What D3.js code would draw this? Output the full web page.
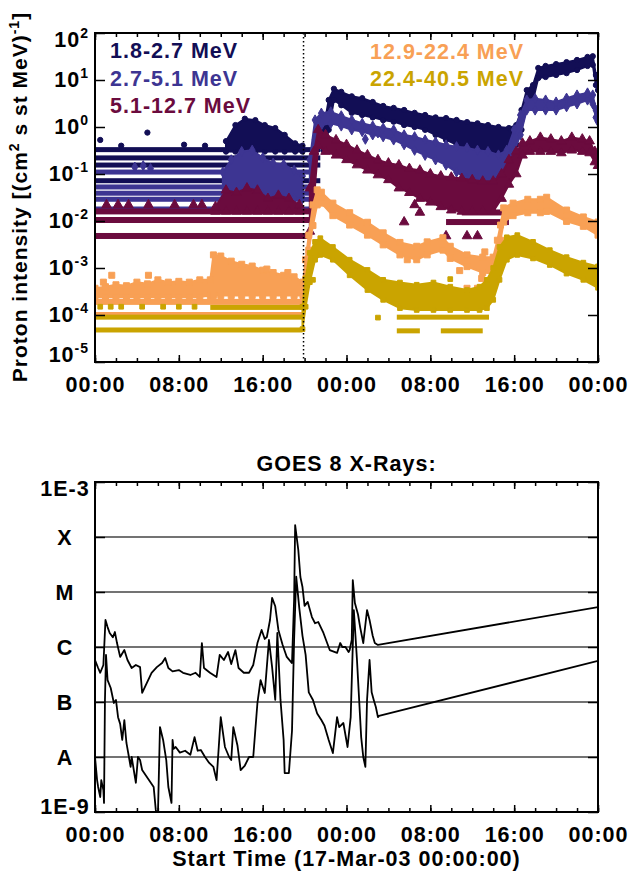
<!DOCTYPE html>
<html>
<head>
<meta charset="utf-8">
<script src="https://cdn.jsdelivr.net/npm/d3@7"></script>
<style>
  body { margin: 0; background: #fff; }
  svg text { font-family: "Liberation Sans", Arial, Helvetica, sans-serif; font-weight: bold; font-size: 21.5px; letter-spacing: 1px; fill: #000; }
</style>
</head>
<body>
<svg id="chart" width="629" height="871"></svg>
<script>
// ---- data (hours after 17-Mar-2003 00:00 UT) ----
const channelNames = ['1.8-2.7 MeV', '2.7-5.1 MeV', '5.1-12.7 MeV', '12.9-22.4 MeV', '22.4-40.5 MeV']
const channelColors = ['#120e55', '#3d3592', '#6b0b3e', '#f8a055', '#caa400']

// quantized count levels: [start h, end h, intensity]
const navyRows = [[0, 21.5, 0.33], [0, 21.5, 0.22], [0, 21.5, 0.155], [0, 21.5, 0.072]]
const blueRows = [[0, 20.5, 0.11], [0, 20.5, 0.053], [0, 20.5, 0.039], [0, 20.5, 0.029], [0, 20.5, 0.018]]
const maroonRows = [[0, 20.5, 0.016], [0, 20.5, 0.0105], [0, 20.5, 0.0048], [33.5, 39.5, 0.0095], [35, 39.5, 0.0152]]
const orangeRows = [[0, 19.8, 1.9e-4], [0, 19.8, 1.0e-4]]
const goldRows = [[11, 19.8, 1.45e-4], [0, 19.8, 9e-5], [0, 19.8, 4.8e-5], [28.8, 37.6, 9e-5], [28.8, 31, 4.6e-5], [33, 37, 4.6e-5]]

// spread of the points: [h, low, high]
const navyEnv = [
  [12.5, 0.3, 0.5], [13.4, 0.3, 1.1], [14.3, 0.3, 1.5], [15.3, 0.3, 1.4], [16.2, 0.3, 1.1], [17.2, 0.3, 0.95],
  [18.1, 0.3, 0.68], [19.1, 0.3, 0.45], [19.8, 0.3, 0.4], null,
  [21.8, 0.32, 0.87], [22.3, 0.87, 3.75], [22.8, 3.75, 6.5], [23.5, 2.9, 5.6], [24.5, 2.0, 4.5], [25.5, 1.8, 4.1],
  [26.5, 1.6, 3.4], [27.5, 1.4, 2.8], [28.5, 1.3, 2.55], [29.5, 1.1, 2.3], [30.5, 1.0, 2.0], [31.5, 0.87, 1.8],
  [32.5, 0.68, 1.6], [33.5, 0.53, 1.55], [34.5, 0.42, 1.41], [35.5, 0.36, 1.27], [36.5, 0.32, 1.2], [37.5, 0.3, 1.1],
  [38.5, 0.28, 1.0], [39.5, 0.3, 0.95], [40.2, 0.42, 1.1], [40.7, 0.87, 2.3], [41.2, 2.9, 6.1], [41.8, 3.75, 7.8],
  [42.3, 11, 18], [43.0, 11.6, 19.9], [44.0, 12.8, 21.8], [45.0, 14, 24], [46.0, 16.3, 26.7], [47.0, 19.9, 30.9],
  [47.5, 21, 32], [47.8, 7.8, 12.8], [48, 6.1, 10]
]
const blueEnv = [
  [12.2, 0.03, 0.11], [13, 0.03, 0.2], [14, 0.035, 0.3], [15, 0.04, 0.32], [16, 0.035, 0.22], [17, 0.03, 0.17],
  [18, 0.03, 0.16], [19, 0.03, 0.12], [19.8, 0.03, 0.09], null,
  [20.5, 0.05, 0.2], [21.0, 0.53, 1.41], [21.6, 1.1, 1.97], [22.5, 1.2, 2.1], [23.5, 1.05, 1.73], [24.5, 0.87, 1.41],
  [25.5, 0.8, 1.2], [26.5, 0.68, 1.05], [27.5, 0.62, 0.95], [28.5, 0.53, 0.87], [29.5, 0.42, 0.68], [30.5, 0.32, 0.62],
  [31.5, 0.25, 0.53], [32.5, 0.2, 0.48], [33.5, 0.155, 0.415], [34.5, 0.11, 0.38], [35.5, 0.08, 0.36], [36.5, 0.065, 0.32],
  [37.5, 0.055, 0.3], [38.5, 0.05, 0.254], [39.3, 0.075, 0.32], [40.0, 0.32, 0.87], [40.6, 0.68, 1.8], [41.2, 2.3, 3.75],
  [42, 2.3, 4.0], [43, 2.3, 3.75], [44, 2.3, 3.4], [45, 2.7, 4.1], [46, 3.1, 4.8], [47, 3.75, 5.3], [47.5, 3.1, 4.8],
  [47.8, 1.6, 2.3], [48, 1.3, 1.8]
]
const maroonEnv = [
  [11.5, 0.016, 0.02], [12.5, 0.016, 0.045], [13.5, 0.016, 0.04], [14.5, 0.016, 0.05], [15.5, 0.016, 0.045],
  [16.5, 0.016, 0.03], [17.5, 0.016, 0.035], [18.5, 0.016, 0.03], [19.5, 0.016, 0.022], null,
  [20.5, 0.006, 0.05], [20.9, 0.03, 0.3], [21.3, 0.4, 0.87], [22, 0.3, 0.68], [23, 0.25, 0.53], [24, 0.2, 0.42],
  [25, 0.155, 0.32], [26, 0.12, 0.254], [27, 0.095, 0.2], [28, 0.075, 0.17], [29, 0.05, 0.155], [30, 0.04, 0.13],
  [31, 0.03, 0.12], [32, 0.025, 0.1], [33, 0.02, 0.09], [34, 0.017, 0.085], [35, 0.016, 0.08], [36, 0.016, 0.075],
  [37, 0.016, 0.07], [38, 0.016, 0.07], [38.8, 0.03, 0.1], [39.5, 0.06, 0.2], [40.2, 0.1, 0.3], [40.8, 0.25, 0.45],
  [41.5, 0.3, 0.5], [42.5, 0.3, 0.6], [43.5, 0.3, 0.55], [44.5, 0.28, 0.5], [45.5, 0.32, 0.6], [46.5, 0.3, 0.55],
  [47.2, 0.28, 0.5], [47.7, 0.18, 0.3], [48, 0.15, 0.25]
]
const orangeEnv = [
  [0, 2.4e-4, 3.7e-4], [1, 2.4e-4, 4e-4], [2, 2.4e-4, 4.4e-4], [3, 2.4e-4, 4.2e-4], [4, 2.4e-4, 5e-4], [5, 2.4e-4, 4.6e-4],
  [6, 2.4e-4, 5.6e-4], [7, 2.4e-4, 5e-4], [8, 2.4e-4, 5.2e-4], [9, 2.4e-4, 5e-4], [10, 2.4e-4, 5.6e-4], [11, 2.6e-4, 5.6e-4],
  [11.3, 2.6e-4, 1.9e-3], [12, 2.6e-4, 1.8e-3], [13, 2.6e-4, 1.4e-3], [14, 2.6e-4, 1.2e-3], [15, 2.6e-4, 1.1e-3],
  [16, 2.6e-4, 9e-4], [17, 2.6e-4, 8e-4], [18, 2.6e-4, 7e-4], [19, 2.6e-4, 6.5e-4], [19.85, 2.6e-4, 5e-4],
  [20.1, 5.6e-4, 1.5e-3], [20.4, 2.4e-3, 5e-3], [20.8, 8e-3, 0.022], [21.2, 0.022, 0.046], [21.6, 0.024, 0.041],
  [22.7, 0.013, 0.024], [24.3, 0.0082, 0.015], [26.0, 0.005, 0.0094], [27.5, 0.0031, 0.0056], [29.1, 0.0019, 0.0035],
  [30.7, 0.0015, 0.0029], [31.7, 0.0019, 0.0036], [33.2, 0.0024, 0.0044], [33.9, 0.0016, 0.0029], [35.5, 0.00107, 0.0019],
  [37.0, 8e-4, 0.0017], [38.0, 7.6e-4, 0.0017], [38.4, 0.0018, 0.0039], [38.7, 0.0039, 0.0082], [39.0, 0.0095, 0.019],
  [39.9, 0.013, 0.024], [41.3, 0.015, 0.029], [42.5, 0.015, 0.029], [43.1, 0.016, 0.032], [45.0, 0.0098, 0.0171],
  [46.6, 0.0077, 0.0122], [48, 0.005, 0.0095]
]
const goldEnv = [
  [19.8, 5e-5, 1.5e-4], [20.1, 1.5e-4, 6e-4], [20.5, 5e-4, 0.0021], [21.0, 0.0015, 0.0036], [21.5, 0.0019, 0.0043],
  [22.7, 0.0015, 0.0028], [24.3, 7e-4, 0.0015], [26.0, 3.4e-4, 9.1e-4], [27.5, 2.1e-4, 5.6e-4], [29.1, 1.4e-4, 4.9e-4],
  [30.7, 1.28e-4, 4.4e-4], [32.3, 1.28e-4, 4.9e-4], [33.9, 1.28e-4, 4.0e-4], [35.5, 1.28e-4, 3.4e-4], [36.7, 1.28e-4, 4.0e-4],
  [37.4, 1.4e-4, 5.6e-4], [38.0, 2.1e-4, 1.0e-3], [38.6, 5.6e-4, 2.8e-3], [39.3, 1.5e-3, 4.5e-3], [40.3, 1.9e-3, 5e-3],
  [41.8, 1.6e-3, 3.6e-3], [43.4, 1.16e-3, 2.4e-3], [45.0, 7.6e-4, 1.7e-3], [46.6, 5.6e-4, 1.3e-3], [48, 3.8e-4, 1.08e-3]
]

// single scattered points: [h, intensity]
const navyPts = [[0.5, 0.53], [5, 0.76], [2.5, 0.4], [8.5, 0.42], [10.5, 0.4]]
const bluePts = [[3.8, 0.14], [4.6, 0.15], [5.3, 0.13], [25.8, 0.55], [27, 0.75]]
const maroonPts = [[1.1, 0.022], [2.2, 0.022], [3.2, 0.022], [5.1, 0.022], [7.6, 0.022], [9.4, 0.022], [10.2, 0.022],
  [29.5, 0.0095], [31, 0.0152], [33.5, 0.0048], [35.5, 0.0048], [36.5, 0.0048], [30.5, 0.022]]
const orangePts = [[0.8, 5e-4], [1.6, 7e-4], [5.1, 7e-4], [16.4, 9.5e-4], [18.4, 8e-4], [29.8, 0.0015],
  [34.8, 8.8e-4], [35.5, 3.7e-4], [36.5, 3.7e-4], [36.9, 6e-4], [37.2, 2.2e-3]]
const goldPts = [[0.5, 1.5e-4], [1.5, 1.5e-4], [2.5, 1.5e-4], [4.5, 1.5e-4], [6.5, 1.5e-4], [8, 1.5e-4], [9.5, 1.5e-4],
  [20.8, 5.6e-4], [33.9, 5.8e-4], [27, 8.8e-5]]

const protonTicks = [1e-5, 1e-4, 1e-3, 1e-2, 1e-1, 1e0, 1e1, 1e2]
const protonExp = ['-5', '-4', '-3', '-2', '-1', '0', '1', '2']

// GOES 8 X-ray flux, W m^-2: [h, flux]
const goesLong = [
  [0, 5.8e-7], [0.3, 4.15e-7], [0.5, 3.4e-7], [0.8, 4.7e-7], [1.0, 3.1e-6], [1.2, 2.3e-6], [1.4, 1.8e-6], [1.7, 1.5e-6],
  [1.9, 1.87e-6], [2.1, 1.18e-6], [2.4, 6.6e-7], [2.8, 8.8e-7], [3.1, 5.8e-7], [3.5, 4.15e-7], [3.9, 4.7e-7],
  [4.3, 4.3e-7], [4.5, 1.46e-7], [5.4, 3.4e-7], [5.9, 4.3e-7], [6.4, 5.1e-7], [6.7, 6.3e-7], [7.0, 4.15e-7],
  [7.4, 3.6e-7], [8.0, 3.8e-7], [8.4, 3.4e-7], [9.1, 3.1e-7], [9.6, 3.4e-7], [10.0, 2.85e-7], [10.2, 1.18e-6],
  [10.4, 4.15e-7], [10.97, 3.4e-7], [11.6, 2.85e-7], [11.9, 7.2e-7], [12.3, 5.8e-7], [12.7, 8.1e-7], [13.0, 4.9e-7],
  [13.4, 8.8e-7], [13.7, 4.15e-7], [14.2, 3.4e-7], [14.7, 3.4e-7], [15.1, 4.7e-7], [15.5, 1.18e-6], [15.9, 2.04e-6],
  [16.2, 1.4e-6], [16.4, 1.52e-6], [16.7, 3.1e-6], [16.9, 7.8e-6], [17.2, 5.5e-6], [17.5, 2.04e-6], [17.9, 1.1e-6],
  [18.3, 6.6e-7], [18.8, 5.1e-7], [19.0, 7.2e-6], [19.1, 1.65e-4], [19.4, 5.8e-5], [19.6, 1.87e-5], [19.8, 1.23e-5],
  [20.0, 5.6e-6], [20.3, 6.6e-6], [20.7, 3.5e-6], [21.0, 2.7e-6], [21.3, 2.85e-6], [21.8, 1.8e-6], [22.4, 8.8e-7],
  [23.1, 7.8e-7], [23.4, 1.18e-6], [23.6, 1.0e-6], [23.9, 1.0e-6], [24.2, 8.1e-7], [24.3, 8.8e-7], [24.5, 1.34e-6],
  [24.6, 1.65e-5], [24.8, 6.3e-6], [25.1, 3.9e-6], [25.3, 2.3e-6], [25.6, 1.18e-6], [25.96, 4.7e-6], [26.2, 3.1e-6],
  [26.5, 1.6e-6], [26.7, 1.18e-6], [27.0, 1.09e-6], [48, 5.3e-6]
]
const goesShort = [
  [0, 1.0e-8], [0.2, 3.8e-9], [0.3, 2.85e-9], [0.5, 1.87e-9], [0.6, 3.8e-9], [0.8, 2.5e-9], [0.86, 1.46e-9],
  [0.95, 1.09e-7], [1.05, 7.2e-7], [1.2, 2.5e-7], [1.5, 1.8e-7], [1.8, 9.6e-8], [2.0, 1.09e-7], [2.2, 5.3e-8],
  [2.4, 4e-8], [2.6, 2.04e-8], [2.8, 4.7e-8], [3.0, 1.8e-8], [3.2, 1.1e-8], [3.4, 6.6e-9], [3.5, 1.0e-8],
  [3.7, 5.8e-9], [3.9, 3.4e-9], [4.1, 1.0e-8], [4.3, 8.8e-9], [4.5, 5.8e-9], [5.6, 2.85e-9], [5.8, 1.09e-9],
  [6.0, 8e-10], [6.2, 3.5e-8], [6.5, 2.04e-8], [6.8, 8.8e-9], [7.0, 2.85e-9], [7.3, 1.46e-9], [7.4, 2.04e-8],
  [7.5, 1.4e-8], [7.7, 1.52e-8], [8.1, 1.2e-8], [8.6, 1.3e-8], [9.1, 1.1e-8], [9.5, 2.3e-8], [9.8, 1.3e-8],
  [10.1, 1.34e-8], [10.5, 1.0e-8], [10.9, 7.8e-9], [11.3, 6.6e-9], [11.6, 3.8e-9], [12.0, 5.3e-8], [12.4, 1.52e-8],
  [12.8, 1.0e-8], [13.0, 8.8e-9], [13.2, 3.5e-8], [13.6, 1.6e-8], [13.9, 5.8e-9], [14.3, 7e-9], [14.7, 1.0e-8],
  [15.1, 1.0e-8], [15.5, 9.6e-8], [15.8, 2.5e-7], [16.2, 1.46e-7], [16.6, 1.34e-6], [16.9, 4.3e-7], [17.2, 1.09e-7],
  [17.4, 1.8e-6], [17.7, 1.09e-7], [18.0, 2.04e-8], [18.1, 5.1e-9], [18.5, 5.1e-9], [18.8, 3.0e-8], [19.0, 1.34e-6],
  [19.2, 1.9e-5], [19.5, 5.0e-6], [19.8, 1.6e-6], [20.1, 7.2e-7], [20.4, 1.5e-7], [20.8, 1.09e-7], [21.2, 6.2e-8],
  [21.6, 4.7e-8], [21.9, 3.7e-8], [22.3, 2.04e-8], [22.7, 1.18e-8], [23.1, 5.3e-8], [23.3, 3.5e-8], [23.7, 4.15e-8],
  [24.1, 1.52e-8], [24.4, 5.3e-8], [24.7, 4.7e-6], [25.0, 5.8e-7], [25.4, 2.3e-8], [25.6, 1.0e-8], [25.8, 6.6e-9],
  [25.96, 1.09e-7], [26.2, 5.8e-7], [26.4, 1.5e-7], [26.6, 1.09e-7], [26.8, 8.1e-8], [27.0, 5.3e-8], [27.1, 5.6e-8],
  [48, 5.6e-7]
]
const goesTicks = [1e-9, 1e-8, 1e-7, 1e-6, 1e-5, 1e-4, 1e-3]
const goesTickLabels = ['1E-9', 'A', 'B', 'C', 'M', 'X', '1E-3']
const flareHour = 19.9

// ---- layout ----
const left = 95, right = 598
const top1 = 33, bottom1 = 362
const top2 = 482, bottom2 = 812
const t0 = Date.UTC(2003, 2, 17)
const hr = h => new Date(t0 + h * 3600e3)

const svg = d3.select('#chart')
const x = d3.scaleUtc().domain([hr(0), hr(48)]).range([left, right])
const y1 = d3.scaleLog().domain([1e-5, 1e2]).range([bottom1, top1])
const y2 = d3.scaleLog().domain([1e-9, 1e-3]).range([bottom2, top2])

const defs = svg.append('defs')
defs.append('clipPath').attr('id', 'clip1').append('rect')
  .attr('x', left).attr('y', top1).attr('width', right - left).attr('height', bottom1 - top1)
defs.append('clipPath').attr('id', 'clip2').append('rect')
  .attr('x', left).attr('y', top2).attr('width', right - left).attr('height', bottom2 - top2)

// ---- proton panel ----
const series = [
  { rows: navyRows, env: navyEnv, pts: navyPts, symbol: d3.symbolCircle, size: 22, band: 5 },
  { rows: blueRows, env: blueEnv, pts: bluePts, symbol: d3.symbolDiamond, size: 30, band: 5 },
  { rows: maroonRows, env: maroonEnv, pts: maroonPts, symbol: d3.symbolTriangle, size: 40, band: 6 },
  { rows: orangeRows, env: orangeEnv, pts: orangePts, symbol: d3.symbolSquare, size: 36, band: 6 },
  { rows: goldRows, env: goldEnv, pts: goldPts, symbol: d3.symbolSquare, size: 22, band: 5 }
]

const plot1 = svg.append('g').attr('clip-path', 'url(#clip1)')
const area = d3.area().defined(d => d)
  .x(d => x(hr(d[0]))).y0(d => y1(d[1])).y1(d => y1(d[2]))

series.forEach((s, i) => {
  const g = plot1.append('g').attr('fill', channelColors[i]).attr('stroke', channelColors[i])
  g.selectAll('rect').data(s.rows).join('rect')
    .attr('x', d => x(hr(d[0]))).attr('width', d => x(hr(d[1])) - x(hr(d[0])))
    .attr('y', d => y1(d[2]) - s.band / 2).attr('height', s.band).attr('stroke', 'none')
  g.append('path').attr('d', area(s.env)).attr('stroke-width', 2).attr('stroke-linejoin', 'round')
  const marks = s.env.filter(d => d).flatMap(d => [[d[0], d[1]], [d[0], d[2]]]).concat(s.pts)
  g.selectAll('path.pt').data(marks).join('path').attr('class', 'pt')
    .attr('transform', d => `translate(${x(hr(d[0]))},${y1(d[1])})`)
    .attr('d', d3.symbol(s.symbol, s.size)).attr('stroke-width', 1)
})

svg.append('line')
  .attr('x1', x(hr(flareHour))).attr('x2', x(hr(flareHour)))
  .attr('y1', top1).attr('y2', bottom1)
  .attr('stroke', '#000').attr('stroke-width', 1.5).attr('stroke-dasharray', '1.5,2.5')

// legend
const legendPos = [[110, 58], [110, 86], [110, 113], [370, 59], [370, 86]]
svg.selectAll('text.legend').data(channelNames).join('text').attr('class', 'legend')
  .attr('x', (d, i) => legendPos[i][0]).attr('y', (d, i) => legendPos[i][1])
  .style('fill', (d, i) => channelColors[i]).text(d => d)

// ---- GOES panel ----
const plot2 = svg.append('g').attr('clip-path', 'url(#clip2)')
plot2.selectAll('line.grid').data(goesTicks.slice(1, -1)).join('line').attr('class', 'grid')
  .attr('x1', left).attr('x2', right).attr('y1', d => y2(d)).attr('y2', d => y2(d))
  .attr('stroke', '#444').attr('stroke-width', 1.3)
const goesLine = d3.line().x(d => x(hr(d[0]))).y(d => y2(d[1]))
plot2.selectAll('path.flux').data([goesLong, goesShort]).join('path').attr('class', 'flux')
  .attr('d', goesLine).attr('fill', 'none').attr('stroke', '#000')
  .attr('stroke-width', 1.8).attr('stroke-linejoin', 'round')

svg.append('text').attr('x', (left + right) / 2).attr('y', 471)
  .attr('text-anchor', 'middle').text('GOES 8 X-Rays:')
svg.append('text').attr('x', (left + right) / 2).attr('y', 866)
  .attr('text-anchor', 'middle').text('Start Time (17-Mar-03 00:00:00)')

// ---- axes and frames ----
function timeAxes(yTop, yBottom) {
  const minor = d3.utcHour.every(2), major = d3.utcHour.every(8)
  const clean = g => g.call(a => a.select('.domain').remove()).selectAll('line').attr('stroke-width', 1.5)
  svg.append('g').attr('transform', `translate(0,${yBottom})`)
    .call(d3.axisBottom(x).ticks(minor).tickSize(-4).tickFormat('')).call(clean)
  svg.append('g').attr('transform', `translate(0,${yBottom})`)
    .call(d3.axisBottom(x).ticks(major).tickSize(-7).tickPadding(15).tickFormat(d3.utcFormat('%H:%M'))).call(clean)
  svg.append('g').attr('transform', `translate(0,${yTop})`)
    .call(d3.axisTop(x).ticks(minor).tickSize(-4).tickFormat('')).call(clean)
  svg.append('g').attr('transform', `translate(0,${yTop})`)
    .call(d3.axisTop(x).ticks(major).tickSize(-7).tickFormat('')).call(clean)
}
function valueTicks(yScale, ticks) {
  const clean = g => g.call(a => a.select('.domain').remove()).selectAll('line').attr('stroke-width', 1.5)
  svg.append('g').attr('transform', `translate(${left},0)`)
    .call(d3.axisLeft(yScale).tickValues(ticks).tickSize(-10).tickFormat('')).call(clean)
  svg.append('g').attr('transform', `translate(${right},0)`)
    .call(d3.axisRight(yScale).tickValues(ticks).tickSize(-10).tickFormat('')).call(clean)
}
function frame(yTop, yBottom) {
  svg.append('rect').attr('x', left).attr('y', yTop).attr('width', right - left).attr('height', yBottom - yTop)
    .attr('fill', 'none').attr('stroke', '#000').attr('stroke-width', 2)
}

timeAxes(top1, bottom1); valueTicks(y1, protonTicks); frame(top1, bottom1)
timeAxes(top2, bottom2); valueTicks(y2, goesTicks); frame(top2, bottom2)

// end labels sit inside the frame
const shift = (i, n) => i === 0 ? -7 : i === n - 1 ? 7 : 0
const pl = svg.selectAll('text.plab').data(protonTicks).join('text').attr('class', 'plab')
  .attr('x', 89).attr('y', (d, i) => y1(d) + 7 + shift(i, protonTicks.length))
  .attr('text-anchor', 'end')
pl.append('tspan').text('10')
pl.append('tspan').attr('dy', -9).attr('font-size', 14).text((d, i) => protonExp[i])

svg.selectAll('text.glab').data(goesTicks).join('text').attr('class', 'glab')
  .attr('x', 65).attr('y', (d, i) => y2(d) + 8 + shift(i, goesTicks.length) * 0.8)
  .attr('text-anchor', 'middle').text((d, i) => goesTickLabels[i])

const yl = svg.append('text').attr('transform', `translate(27,197) rotate(-90)`)
  .attr('text-anchor', 'middle').style('font-size', '21px')
yl.append('tspan').text('Proton intensity [(cm')
yl.append('tspan').attr('dy', -8).attr('font-size', 14).text('2')
yl.append('tspan').attr('dy', 8).text(' s st MeV)')
yl.append('tspan').attr('dy', -8).attr('font-size', 14).text('-1')
yl.append('tspan').attr('dy', 8).text(']')
</script>
</body>
</html>
